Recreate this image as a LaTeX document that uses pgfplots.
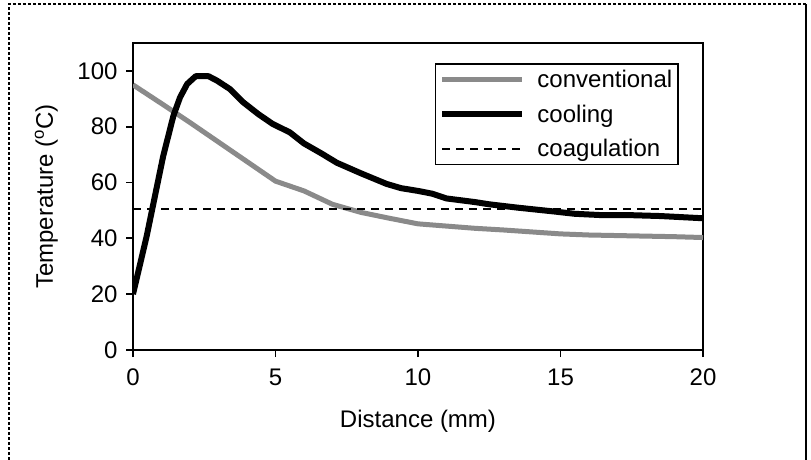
\documentclass[border=0pt]{standalone}
\usepackage{fontspec}
\setmainfont{Liberation Sans}
\usepackage{pgfplots}
\pgfplotsset{compat=1.18}
\definecolor{convgray}{RGB}{138,138,138}
\begin{document}
\begin{tikzpicture}[x=1pt,y=1pt]
\path[use as bounding box] (0,0) rectangle (811,460);
\draw[line width=1.5pt, dash pattern=on 3pt off 2pt] (9,0) -- (9,456) -- (806,456);
\draw[line width=2.2pt] (806,456) -- (806,0);
\begin{axis}[
  at={(133pt,110pt)}, anchor=south west,
  scale only axis, width=570pt, height=307pt,
  xmin=0, xmax=20, ymin=0, ymax=110,
  xtick={0,5,...,20}, ytick={0,20,...,100},
  tick align=outside, xtick pos=left, ytick pos=left,
  major tick length=7pt,
  axis line style={line width=1.8pt},
  every tick/.style={line width=1.8pt, black},
  font=\fontsize{24}{28}\selectfont,
  ticklabel style={font=\fontsize{24}{28}\selectfont},
  xticklabel style={yshift=-8pt},
  yticklabel style={xshift=-5pt},
  /pgf/number format/assume math mode=true,
  xlabel={Distance (mm)},
  ylabel={Temperature (\textsuperscript{o}C)},
  xlabel style={at={(axis description cs:0.5,-0.231)}, anchor=center},
  ylabel style={at={(axis description cs:-0.152,0.5)}, anchor=center},
  legend image code/.code={\draw[#1] (0pt,0pt) -- (80pt,0pt); \path (90pt,0pt);},
  legend cell align=left,
  legend style={at={(0.958,0.935)}, anchor=north east, draw=black,
    line width=1.6pt, row sep=12pt, inner xsep=4pt, inner ysep=4pt,
    font=\fontsize{24}{28}\selectfont},
]
\addplot[convgray, line width=5pt, line join=round] coordinates {
  (0,95) (1,88.3) (2,81.5) (3,74.5) (4,67.5) (5,60.5) (6,57) (7,52.2)
  (8,49.3) (9,47.2) (10,45.2) (11,44.4) (12,43.6) (13,43) (14,42.3)
  (15,41.6) (16,41.2) (17,41) (18,40.8) (19,40.6) (20,40.3)
};
\addlegendentry{conventional}
\addplot[black, line width=6pt, line join=round] coordinates {
  (0,20) (0.48,40.8) (1.06,69.5) (1.42,84) (1.65,90.5) (1.9,95.3)
  (2.2,98.1) (2.65,98.1) (2.95,96.5) (3.4,93.5) (3.85,88.9) (4.4,84.5)
  (4.9,81) (5.5,78) (6,74) (6.6,70.5) (7.15,67.1) (8,63.3) (8.9,59.5)
  (9.4,58) (10,57) (10.5,56) (11,54.3) (12,53) (12.5,52.2) (13.5,51)
  (14.8,49.6) (15.5,48.8) (16.5,48.3) (17.5,48.3) (18.5,48) (20,47.2)
};
\addlegendentry{cooling}
\addplot[black, line width=2.4pt, dash pattern=on 8pt off 6pt] coordinates {
  (0,50.5) (20,50.5)
};
\addlegendentry{coagulation}
\end{axis}
\end{tikzpicture}
\end{document}
